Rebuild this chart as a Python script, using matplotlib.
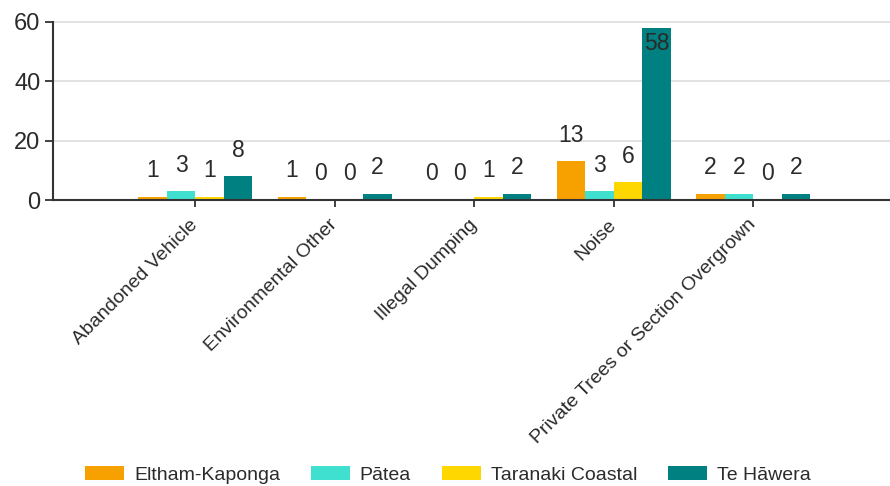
import matplotlib
matplotlib.use("Agg")
import matplotlib.pyplot as plt
import matplotlib.transforms as mtransforms
import numpy as np
from matplotlib.patches import Patch

plt.rcParams['font.family'] = ['Liberation Sans', 'DejaVu Sans']

categories = ["Abandoned Vehicle", "Environmental Other", "Illegal Dumping",
              "Noise", "Private Trees or Section Overgrown"]
series_names = ["Eltham-Kaponga", "Pātea", "Taranaki Coastal", "Te Hāwera"]
eltham = [1, 1, 0, 13, 2]
patea = [3, 0, 0, 3, 2]
taranaki = [1, 0, 1, 6, 0]
hawera = [8, 2, 2, 58, 2]
colors = ["#F7A100", "#40E0D0", "#FFD700", "#008080"]
y_ticks = [0, 20, 40, 60]

series = [eltham, patea, taranaki, hawera]

fig = plt.figure(figsize=(8.9, 4.86), dpi=100)
ax = fig.add_axes([53/890, (486-200)/486, 1 - 53/890, 178/486])

x = np.arange(len(categories))
bw = 0.205
txt_color = "#2b2b2b"
for i, (vals, col) in enumerate(zip(series, colors)):
    pos = x + (i - 1.5) * bw
    ax.bar(pos, vals, width=bw, color=col, edgecolor='none', zorder=3)
    for p, v in zip(pos, vals):
        if v >= 50:
            ax.annotate(str(v), (p, v), xytext=(0, -3), textcoords='offset points',
                        ha='center', va='top', fontsize=16.5, color=txt_color, zorder=4)
        else:
            ax.annotate(str(v), (p, v), xytext=(0, 10.5), textcoords='offset points',
                        ha='center', va='bottom', fontsize=16.5, color=txt_color, zorder=4)

ax.set_xlim(-1.02, 4.98)
ax.set_ylim(0, 60)
ax.set_yticks(y_ticks)
ax.set_yticklabels([str(t) for t in y_ticks], fontsize=17, color=txt_color)
ax.set_xticks(x)
ax.set_xticklabels(categories, rotation=45, ha='right', va='center',
                   rotation_mode='anchor', fontsize=14, color=txt_color)
offset = mtransforms.ScaledTranslation(4/100, 0, fig.dpi_scale_trans)
for lbl in ax.get_xticklabels():
    lbl.set_transform(lbl.get_transform() + offset)
ax.tick_params(axis='x', length=5, width=1.3, color='#333333', pad=11)
ax.tick_params(axis='y', length=6, width=1.3, color='#333333', pad=3)
ax.yaxis.grid(True, color='#dddddd', linewidth=1.2, zorder=0, clip_on=False)
ax.set_axisbelow(True)
for s in ['top', 'right']:
    ax.spines[s].set_visible(False)
for s in ['left', 'bottom']:
    ax.spines[s].set_color('#333333')
    ax.spines[s].set_linewidth(1.5)
    ax.spines[s].set_zorder(5)

handles = [Patch(facecolor=c, edgecolor='none') for c in colors]
fig.legend(handles, series_names, loc='center', bbox_to_anchor=(448/890, (486-475)/486),
           ncol=4, frameon=False, fontsize=14, handlelength=2.0, handleheight=0.75,
           handletextpad=0.5, columnspacing=1.6, labelcolor=txt_color)

fig.savefig("out.png", dpi=100)
